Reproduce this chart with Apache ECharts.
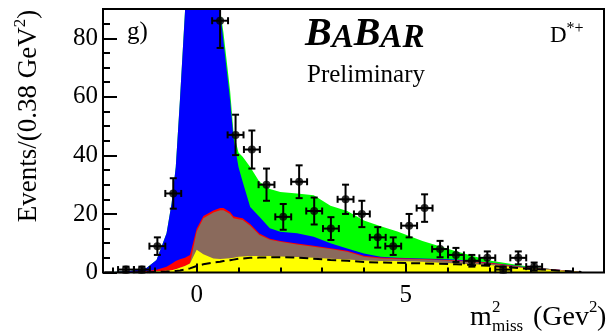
<!DOCTYPE html>
<html>
<head>
<meta charset="utf-8">
<title>m2 miss D*+</title>
<script src="https://cdn.jsdelivr.net/npm/echarts@6/dist/echarts.min.js"></script>
<style>
  html, body { margin: 0; padding: 0; background: #fff; }
  #chart { width: 606px; height: 334px; }
</style>
</head>
<body>
<div id="chart"></div>
<script>
// data points (bin centres, counts, errors)
const binX = [-1.69, -1.31, -0.94, -0.56, 0.56, 0.93, 1.32, 1.67, 2.07, 2.45, 2.81, 3.21, 3.56,
  3.95, 4.33, 4.70, 5.08, 5.45, 5.82, 6.20, 6.58, 6.95, 7.33, 7.69, 8.07];
const counts = [1, 1, 9, 27, 86, 47, 42, 30, 19, 31, 21, 15, 25, 20, 12, 9, 16, 22, 8, 6, 4, 5, 1, 5, 2];
const errY = [1, 1, 3, 5.2, 9.3, 6.9, 6.5, 5.5, 4.4, 5.6, 4.6, 3.9, 5, 4.5, 3.5, 3, 4, 4.7, 2.8, 2.4, 2, 2.2, 1, 2.2, 1.4];
const halfBin = 0.19;

// fit components, cumulative tops
const curveX = [-2.2, -1.6, -1.2, -0.96, -0.72, -0.6, -0.5, -0.4, -0.28, -0.16, 0, 0.16, 0.4, 0.56, 0.64,
  0.8, 0.88, 1.0, 1.1, 1.28, 1.5, 1.75, 2.0, 2.4, 2.8, 3.2, 3.6, 4.0, 4.4, 4.8, 5.4, 6.2, 7.0, 7.8, 8.6, 9.2];
const yellowTop = [0, 0.1, 0.2, 0.4, 0.6, 0.8, 1.1, 1.6, 2.2, 3.1, 7.8, 6.2, 4.8, 4.6, 4.7,
  4.9, 5.0, 5.4, 5.5, 5.6, 5.6, 5.6, 5.5, 5.3, 5.0, 4.7, 4.4, 4.1, 3.9, 3.9, 3.7, 3.1, 2.6, 1.5, 0.8, 0.2];
const dashedCurve = [0, 0, 0.1, 0.2, 0.3, 0.4, 0.5, 0.7, 1.0, 1.4, 2.2, 2.8, 3.4, 3.7, 3.9,
  4.2, 4.4, 4.7, 4.8, 5.0, 5.1, 5.2, 5.2, 5.1, 4.7, 4.3, 4.0, 3.6, 3.4, 3.3, 3.1, 2.8, 2.3, 1.4, 0.7, 0.2];
const brownTop = [0, 0.1, 0.2, 0.4, 0.6, 0.8, 1.1, 1.6, 2.2, 3.1, 14, 18.5, 20.5, 21.3, 21.3,
  20, 18.5, 18.2, 17.9, 16, 12.8, 11.2, 10.5, 9.6, 8.8, 8, 7.1, 5.4, 4.8, 4.6, 4.4, 4.0, 3.1, 1.8, 0.9, 0.2];
const redTop = [0, 0.2, 0.5, 0.9, 2, 3, 3.9, 4.5, 5.0, 6.0, 15, 19.3, 21.2, 22, 22,
  20.7, 19.2, 18.8, 18.5, 16.6, 13.3, 11.5, 10.8, 9.9, 9.1, 8.3, 7.4, 5.7, 5.1, 4.9, 4.6, 4.2, 3.3, 1.9, 1.0, 0.2];
const blueTop = [0, 0.5, 1.5, 4.3, 13.4, 23.6, 36, 59, 89, 140, 200, 200, 140, 89.4, 79,
  58.8, 46, 36, 31, 22.4, 19, 15.1, 13.9, 13.4, 12.2, 10, 8.2, 6.5, 5.4, 5.0, 4.8, 4.4, 3.4, 2.0, 1.0, 0.2];
const greenTop = [0, 0.5, 1.5, 4.3, 13.4, 23.6, 36, 59, 89, 140, 200, 200, 140, 90, 82,
  62, 48, 41, 39.5, 36, 31, 28.5, 27.5, 27, 26.4, 22.8, 21, 17.8, 15.8, 14, 10.8, 7.3, 4.1, 2.3, 0.9, 0.15];

const xMajor = [0, 5];
const xMinor = [-2, -1, 1, 2, 3, 4, 6, 7, 8, 9];
const yMajor = [0, 20, 40, 60, 80];
const yMinor = [5, 10, 15, 25, 30, 35, 45, 50, 55, 65, 70, 75, 85];

const X_MIN = -2.24, X_MAX = 9.74, Y_MAX = 90;
const serif = '"Liberation Serif", "DejaVu Serif", serif';

function pairs(ys) {
  return curveX.map(function (x, i) { return [x, ys[i]]; });
}

function area(name, ys, color) {
  return {
    name: name, type: 'line', data: pairs(ys),
    xAxisIndex: 0, yAxisIndex: 0,
    showSymbol: false, symbol: 'none', silent: true,
    lineStyle: { width: 0 },
    areaStyle: { color: color, opacity: 1, origin: 'start' }
  };
}

let mychart = echarts.init(document.getElementById('chart'));

let xAxisBase = {
  type: 'value', min: X_MIN, max: X_MAX, gridIndex: 0, position: 'bottom',
  axisLine: { show: false, onZero: false }, splitLine: { show: false }, z: 10
};
let yAxisBase = {
  type: 'value', min: 0, max: Y_MAX, gridIndex: 0, position: 'left',
  axisLine: { show: false, onZero: false }, splitLine: { show: false }, z: 10
};

let option = {
  animation: false,
  backgroundColor: '#fff',
  grid: {
    left: 103, top: 9, width: 501, height: 263.5,
    show: true, borderColor: '#000', borderWidth: 2,
    backgroundColor: 'transparent', z: 10
  },
  xAxis: [
    Object.assign({}, xAxisBase, {
      axisTick: { inside: true, length: 9, customValues: xMajor, lineStyle: { color: '#000', width: 2 } },
      axisLabel: { customValues: xMajor, margin: 10, color: '#000', fontSize: 25, fontFamily: serif }
    }),
    Object.assign({}, xAxisBase, {
      axisTick: { inside: true, length: 5, customValues: xMinor, lineStyle: { color: '#000', width: 2 } },
      axisLabel: { show: false }
    })
  ],
  yAxis: [
    Object.assign({}, yAxisBase, {
      axisTick: { inside: true, length: 14, customValues: yMajor, lineStyle: { color: '#000', width: 2 } },
      axisLabel: { customValues: yMajor, margin: 5, color: '#000', fontSize: 25, fontFamily: serif }
    }),
    Object.assign({}, yAxisBase, {
      axisTick: { inside: true, length: 7, customValues: yMinor, lineStyle: { color: '#000', width: 2 } },
      axisLabel: { show: false }
    })
  ],
  series: [
    area('green', greenTop, '#00ff00'),
    area('blue', blueTop, '#0000ff'),
    area('red', redTop, '#ff0000'),
    area('brown', brownTop, '#8a6a5c'),
    area('yellow', yellowTop, '#ffff00'),
    {
      name: 'dashed', type: 'line', data: pairs(dashedCurve),
      showSymbol: false, symbol: 'none', silent: true,
      lineStyle: { color: '#000', width: 2, type: [9, 5] }
    },
    {
      name: 'errors', type: 'custom',
      data: binX.map(function (x, i) { return [x, counts[i], halfBin, errY[i]]; }),
      renderItem: function (params, api) {
        const x = api.value(0), y = api.value(1), ex = api.value(2), ey = api.value(3);
        const l = api.coord([x - ex, y]);
        const r = api.coord([x + ex, y]);
        const topClipped = y + ey > Y_MAX;
        const t = api.coord([x, Math.min(y + ey, Y_MAX)]);
        const b = api.coord([x, Math.max(y - ey, 0)]);
        const cap = 3.5;
        const st = { stroke: '#000', lineWidth: 2 };
        const kids = [
          { type: 'line', shape: { x1: l[0], y1: l[1], x2: r[0], y2: r[1] }, style: st },
          { type: 'line', shape: { x1: l[0], y1: l[1] - cap, x2: l[0], y2: l[1] + cap }, style: st },
          { type: 'line', shape: { x1: r[0], y1: r[1] - cap, x2: r[0], y2: r[1] + cap }, style: st },
          { type: 'line', shape: { x1: t[0], y1: t[1], x2: b[0], y2: b[1] }, style: st },
          { type: 'line', shape: { x1: b[0] - cap, y1: b[1], x2: b[0] + cap, y2: b[1] }, style: st }
        ];
        if (!topClipped) {
          kids.push({ type: 'line', shape: { x1: t[0] - cap, y1: t[1], x2: t[0] + cap, y2: t[1] }, style: st });
        }
        return { type: 'group', children: kids };
      },
      z: 5
    },
    {
      name: 'data', type: 'scatter',
      data: binX.map(function (x, i) { return [x, counts[i]]; }),
      symbol: 'circle', symbolSize: 8,
      itemStyle: { color: '#000' }, z: 6
    }
  ],
  graphic: [
    {
      type: 'text', x: 27, y: 116, rotation: Math.PI / 2,
      style: {
        text: '{a|Events/(0.38 GeV}{s|2}{a|)}',
        align: 'center', verticalAlign: 'middle',
        rich: {
          a: { fontFamily: serif, fontSize: 27, fill: '#000', verticalAlign: 'bottom', lineHeight: 30 },
          s: { fontFamily: serif, fontSize: 17, fill: '#000', verticalAlign: 'top', lineHeight: 30 }
        }
      }
    },
    { type: 'text', x: 470, y: 318, style: { text: 'm', font: '28px ' + serif, fill: '#000', verticalAlign: 'middle' } },
    { type: 'text', x: 492, y: 308, style: { text: '2', font: '17px ' + serif, fill: '#000', verticalAlign: 'middle' } },
    { type: 'text', x: 492, y: 327, style: { text: 'miss', font: '17px ' + serif, fill: '#000', verticalAlign: 'middle' } },
    { type: 'text', x: 589, y: 318, style: { text: '(Gev', font: '28px ' + serif, fill: '#000', align: 'right', verticalAlign: 'middle' } },
    { type: 'text', x: 589, y: 308, style: { text: '2', font: '17px ' + serif, fill: '#000', verticalAlign: 'middle' } },
    { type: 'text', x: 597, y: 318, style: { text: ')', font: '28px ' + serif, fill: '#000', verticalAlign: 'middle' } },
    { type: 'text', x: 127, y: 32, style: { text: 'g)', font: '25px ' + serif, fill: '#000', verticalAlign: 'middle' } },
    {
      type: 'text', x: 305, y: 35,
      style: {
        text: '{b|B}{a|A}{b|B}{a|AR}',
        verticalAlign: 'middle',
        rich: {
          b: { fontFamily: serif, fontStyle: 'italic', fontWeight: 'bold', fontSize: 40, fill: '#000', verticalAlign: 'bottom', lineHeight: 40 },
          a: { fontFamily: serif, fontStyle: 'italic', fontWeight: 'bold', fontSize: 33, fill: '#000', verticalAlign: 'bottom', lineHeight: 40 }
        }
      }
    },
    { type: 'text', x: 366, y: 75, style: { text: 'Preliminary', font: '25px ' + serif, fill: '#000', align: 'center', verticalAlign: 'middle' } },
    {
      type: 'text', x: 550, y: 34,
      style: {
        text: '{a|D}{s|*+}',
        verticalAlign: 'middle',
        rich: {
          a: { fontFamily: serif, fontSize: 23, fill: '#000', verticalAlign: 'bottom', lineHeight: 26 },
          s: { fontFamily: serif, fontSize: 16, fill: '#000', verticalAlign: 'top', lineHeight: 26 }
        }
      }
    }
  ]
};

mychart.setOption(option);
</script>
</body>
</html>
